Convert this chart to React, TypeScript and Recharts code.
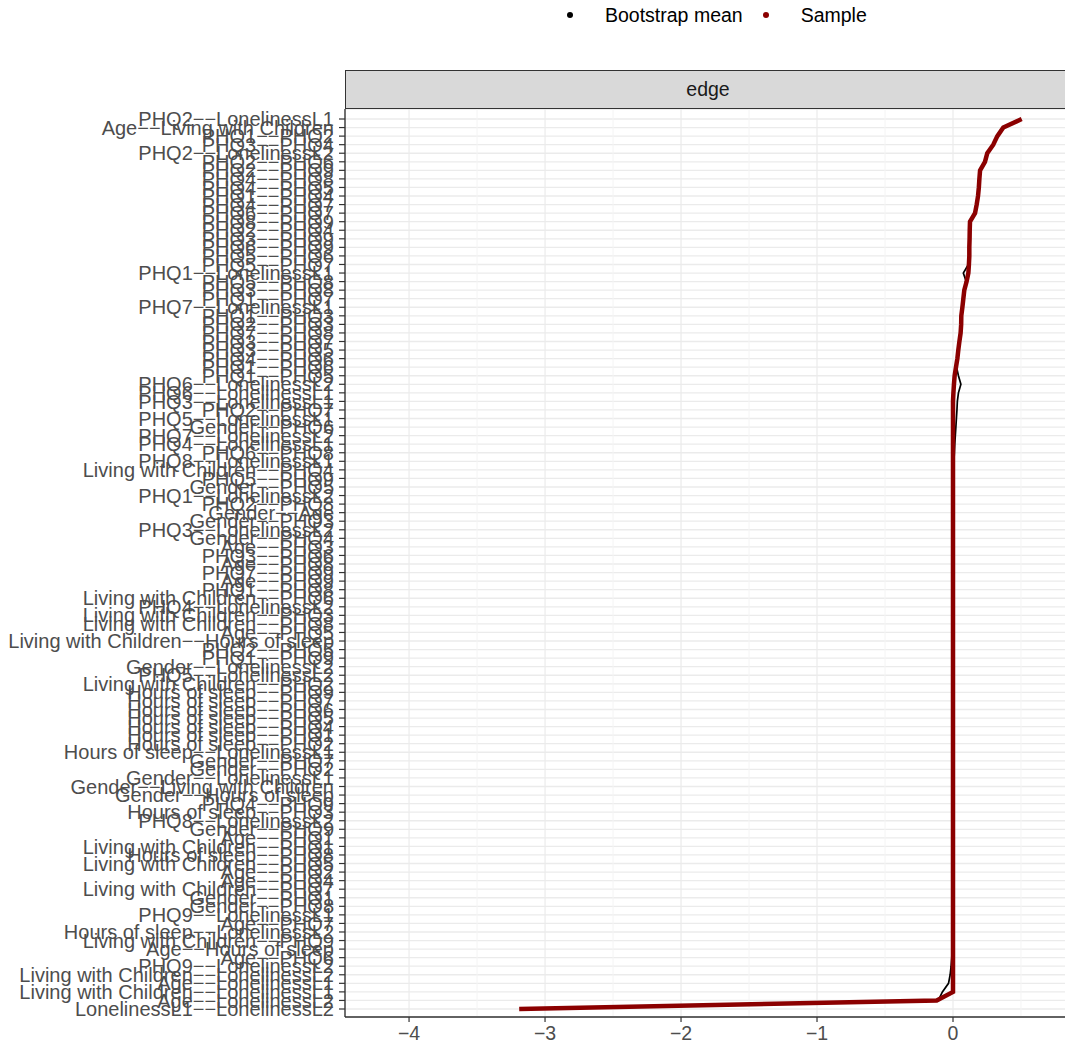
import React from "react";
import {
  CartesianGrid,
  Line,
  LineChart,
  ReferenceLine,
  XAxis,
  YAxis,
} from "recharts";

// edges, top to bottom (sorted by sample weight)
const edges = [
  "PHQ2--LonelinessL1", "Age--Living with Children", "PHQ1--PHQ2", "PHQ3--PHQ4", "PHQ2--LonelinessL2",
  "PHQ2--PHQ6", "PHQ2--PHQ9", "PHQ4--PHQ8", "PHQ4--PHQ5", "PHQ1--PHQ4",
  "PHQ4--PHQ7", "PHQ6--PHQ7", "PHQ8--PHQ9", "PHQ2--PHQ4", "PHQ3--PHQ9",
  "PHQ6--PHQ9", "PHQ5--PHQ6", "PHQ5--PHQ7", "PHQ1--LonelinessL1", "PHQ5--PHQ8",
  "PHQ3--PHQ8", "PHQ1--PHQ7", "PHQ7--LonelinessL1", "PHQ1--PHQ3", "PHQ2--PHQ3",
  "PHQ7--PHQ8", "PHQ3--PHQ7", "PHQ3--PHQ5", "PHQ4--PHQ6", "PHQ1--PHQ6",
  "PHQ1--PHQ5", "PHQ6--LonelinessL2", "PHQ6--LonelinessL1", "PHQ3--LonelinessL1", "PHQ2--PHQ7",
  "PHQ5--LonelinessL1", "Gender--PHQ6", "PHQ7--LonelinessL2", "PHQ4--LonelinessL1", "PHQ6--PHQ8",
  "PHQ8--LonelinessL1", "Living with Children--PHQ4", "PHQ5--PHQ9", "Gender--PHQ5", "PHQ1--LonelinessL2",
  "PHQ2--PHQ8", "Gender--Age", "Gender--PHQ3", "PHQ3--LonelinessL2", "Gender--PHQ4",
  "Age--PHQ3", "PHQ3--PHQ6", "Age--PHQ8", "PHQ7--PHQ9", "Age--PHQ9",
  "PHQ1--PHQ8", "Living with Children--PHQ6", "PHQ4--LonelinessL2", "Living with Children--PHQ3", "Living with Children--PHQ8",
  "Age--PHQ5", "Living with Children--Hours of sleep", "PHQ2--PHQ5", "PHQ1--PHQ9", "Gender--LonelinessL2",
  "PHQ5--LonelinessL2", "Living with Children--PHQ2", "Hours of sleep--PHQ9", "Hours of sleep--PHQ7", "Hours of sleep--PHQ6",
  "Hours of sleep--PHQ5", "Hours of sleep--PHQ4", "Hours of sleep--PHQ1", "Hours of sleep--PHQ2", "Hours of sleep--LonelinessL1",
  "Gender--PHQ7", "Gender--PHQ2", "Gender--LonelinessL1", "Gender--Living with Children", "Gender--Hours of sleep",
  "PHQ4--PHQ9", "Hours of sleep--PHQ3", "PHQ8--LonelinessL2", "Gender--PHQ9", "Age--PHQ1",
  "Living with Children--PHQ1", "Hours of sleep--PHQ8", "Living with Children--PHQ5", "Age--PHQ2", "Age--PHQ4",
  "Living with Children--PHQ7", "Gender--PHQ1", "Gender--PHQ8", "PHQ9--LonelinessL1", "Age--PHQ7",
  "Hours of sleep--LonelinessL2", "Living with Children--PHQ9", "Age--Hours of sleep", "Age--PHQ6", "PHQ9--LonelinessL2",
  "Living with Children--LonelinessL2", "Age--LonelinessL1", "Living with Children--LonelinessL1", "Age--LonelinessL2", "LonelinessL1--LonelinessL2",
];

const sampleValues = [
  0.505, 0.37, 0.326, 0.296, 0.252, 0.235, 0.199, 0.194, 0.19, 0.184,
  0.174, 0.162, 0.125, 0.123, 0.122, 0.12, 0.12, 0.117, 0.113, 0.1,
  0.083, 0.076, 0.069, 0.061, 0.06, 0.056, 0.047, 0.039, 0.032, 0.022,
  0.012, 0.007, 0.003, 0, 0, 0, 0, 0, 0, 0,
  0, 0, 0, 0, 0, 0, 0, 0, 0, 0,
  0, 0, 0, 0, 0, 0, 0, 0, 0, 0,
  0, 0, 0, 0, 0, 0, 0, 0, 0, 0,
  0, 0, 0, 0, 0, 0, 0, 0, 0, 0,
  0, 0, 0, 0, 0, 0, 0, 0, 0, 0,
  0, 0, 0, 0, 0, 0, 0, 0, 0, 0,
  0, 0, 0, -0.12, -3.19,
];

const bootMeanValues = [
  0.5, 0.366, 0.322, 0.292, 0.247, 0.231, 0.196, 0.19, 0.186, 0.18,
  0.17, 0.158, 0.122, 0.12, 0.119, 0.117, 0.116, 0.113, 0.076, 0.097,
  0.081, 0.074, 0.067, 0.059, 0.057, 0.053, 0.045, 0.037, 0.031, 0.026,
  0.04, 0.058, 0.04, 0.032, 0.029, 0.025, 0.021, 0.017, 0.013, 0.01,
  0.007, 0.005, 0.004, 0.004, 0.003, 0.003, 0.002, 0.002, 0.002, 0.002,
  0.001, 0.001, 0.001, 0.001, 0.001, 0.001, 0.001, 0.001, 0.001, 0.001,
  0.001, 0.001, 0.001, 0.001, 0.001, 0, 0, 0, 0, 0,
  0, 0, 0, 0, 0, 0, 0, 0, 0, 0,
  0, 0, 0, 0, 0, 0, -0.001, -0.001, -0.001, -0.001,
  -0.001, -0.001, -0.002, -0.002, -0.003, -0.003, -0.004, -0.006, -0.009, -0.014,
  -0.021, -0.033, -0.078, -0.108, -3.18,
];

const xTicks = [-4, -3, -2, -1, 0];
const xMinor = [-4.5, -3.5, -2.5, -1.5, -0.5, 0.5];

const FONT = '"Liberation Sans", Arial, Helvetica, sans-serif';

const rows = edges.map((edge, i) => ({
  edge,
  sample: sampleValues[i],
  boot: bootMeanValues[i],
}));

const legendItems = [
  { name: "Bootstrap mean", color: "#000000", gap: 20 },
  { name: "Sample", color: "#8B0000", gap: 0 },
];

// R draws the "-" in the edge names as a minus sign
const minusify = (s: string) => s.replace(/-/g, "\u2212");

const App: React.FC = () => {
  return (
    <div
      style={{
        position: "absolute",
        left: 0,
        top: 0,
        width: 1065,
        height: 1048,
        overflow: "hidden",
        background: "#fff",
        fontFamily: FONT,
      }}
    >
      <LineChart
        layout="vertical"
        width={1069}
        height={1048}
        data={rows}
        margin={{ top: 109, right: 0, bottom: 0, left: 0 }}
      >
        <CartesianGrid horizontal vertical={false} stroke="#EBEBEB" strokeWidth={1.3} />
        {xMinor.map((v) => (
          <ReferenceLine key={`minor-${v}`} x={v} stroke="#F4F4F4" strokeWidth={1} />
        ))}
        {xTicks.map((v) => (
          <ReferenceLine key={`major-${v}`} x={v} stroke="#EBEBEB" strokeWidth={1.2} />
        ))}
        <XAxis
          type="number"
          domain={[-4.471, 0.853]}
          ticks={xTicks}
          allowDataOverflow
          height={31}
          tickSize={5}
          tickMargin={4}
          tickFormatter={(v: number) => (v < 0 ? `\u2212${Math.abs(v)}` : `${v}`)}
          tick={{ fill: "#4D4D4D", fontSize: 19.5, fontFamily: FONT }}
          axisLine={{ stroke: "#333333", strokeWidth: 1.4 }}
          tickLine={{ stroke: "#333333", strokeWidth: 1.2 }}
        />
        <YAxis
          type="category"
          dataKey="edge"
          scale="point"
          width={345}
          interval={0}
          padding={{ top: 10, bottom: 8 }}
          tickSize={6}
          tickMargin={5}
          tickFormatter={minusify}
          tick={{ fill: "#4D4D4D", fontSize: 20, fontFamily: FONT }}
          axisLine={{ stroke: "#333333", strokeWidth: 1.4 }}
          tickLine={{ stroke: "#333333", strokeWidth: 1.2 }}
        />
        <Line
          name="Bootstrap mean"
          dataKey="boot"
          stroke="#000000"
          strokeWidth={1.7}
          dot={false}
          isAnimationActive={false}
        />
        <Line
          name="Sample"
          dataKey="sample"
          stroke="#8B0000"
          strokeWidth={4.5}
          dot={false}
          isAnimationActive={false}
        />
      </LineChart>

      {/* legend */}
      <div
        style={{
          position: "absolute",
          top: 0,
          left: 567,
          height: 30,
          display: "flex",
          alignItems: "center",
          fontSize: 19.5,
          color: "#000",
        }}
      >
        {legendItems.map((item) => (
          <div key={item.name} style={{ display: "flex", alignItems: "center", marginRight: item.gap }}>
            <span
              style={{
                width: 6,
                height: 6,
                borderRadius: "50%",
                background: item.color,
                display: "inline-block",
                marginRight: 32,
              }}
            />
            <span>{item.name}</span>
          </div>
        ))}
      </div>

      {/* facet strip */}
      <div
        style={{
          position: "absolute",
          left: 345,
          top: 70,
          width: 724,
          height: 37,
          background: "#D9D9D9",
          borderTop: "1.5px solid #333333",
          borderLeft: "1.5px solid #333333",
          borderBottom: "1.5px solid #333333",
          display: "flex",
          alignItems: "center",
          justifyContent: "center",
          fontSize: 19.5,
          color: "#1A1A1A",
          boxSizing: "content-box",
        }}
      >
        edge
      </div>
    </div>
  );
};

export default App;
